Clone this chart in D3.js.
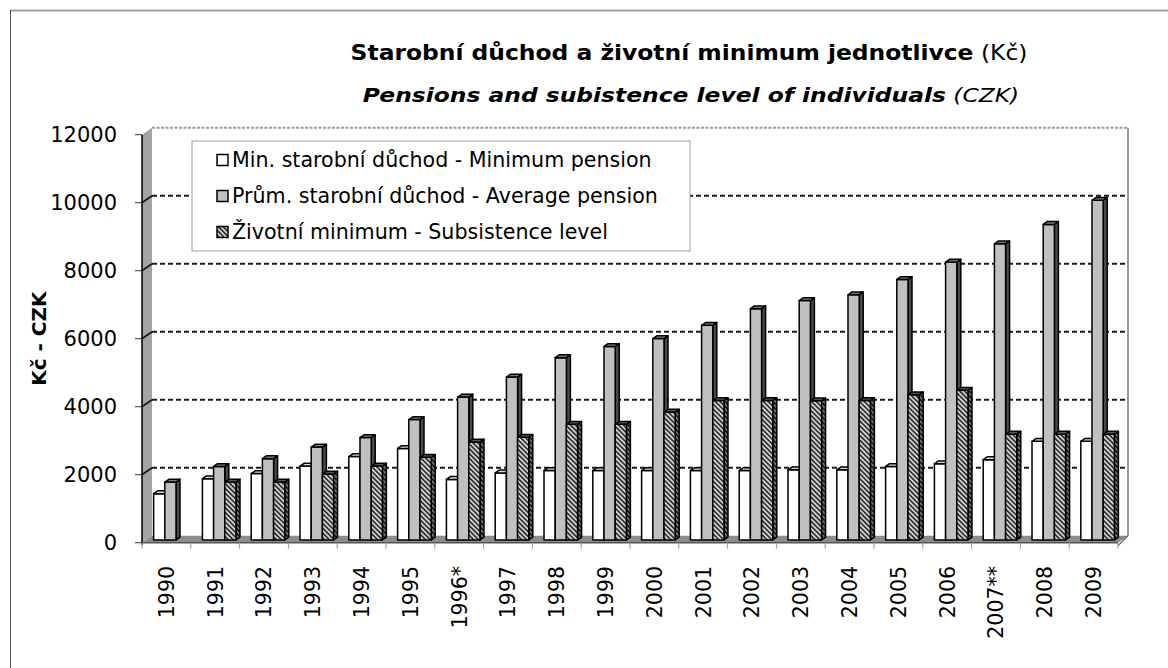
<!DOCTYPE html>
<html>
<head>
<meta charset="utf-8">
<script src="https://cdn.jsdelivr.net/npm/d3@7"></script>
<style>
  body { margin: 0; background: #fff; }
  svg { display: block; font-family: "DejaVu Sans", Verdana, sans-serif; }
</style>
</head>
<body>
<svg id="chart" width="1168" height="668"></svg>
<script>

//  values (Kč)
var years = ['1990', '1991', '1992', '1993', '1994', '1995', '1996*', '1997', '1998', '1999',
             '2000', '2001', '2002', '2003', '2004', '2005', '2006', '2007**', '2008', '2009'];

var minPension = [1360, 1800, 1950, 2170, 2450, 2690, 1780, 1970, 2040, 2040,
                  2040, 2040, 2040, 2060, 2060, 2160, 2240, 2360, 2900, 2900];

var avgPension = [1700, 2160, 2390, 2730, 3010, 3540, 4200, 4790, 5360, 5690,
                  5920, 6310, 6800, 7040, 7210, 7660, 8170, 8710, 9280, 9990];

var subsistence = [null, 1700, 1700, 1940, 2170, 2430, 2880, 3020, 3400, 3400,
                   3760, 4100, 4100, 4090, 4100, 4270, 4400, 3110, 3110, 3110];

var seriesNames = ['Min. starobní důchod - Minimum pension',
                   'Prům. starobní důchod - Average pension',
                   'Životní minimum - Subsistence level'];

var yTicks = [0, 2000, 4000, 6000, 8000, 10000, 12000];

var titleMain = 'Starobní důchod a životní minimum jednotlivce';
var titleUnit = ' (Kč)';
var subMain = 'Pensions and subistence level of individuals';
var subUnit = ' (CZK)';
var yTitle = 'Kč - CZK';


var svg = d3.select('#chart');

//  3d wall depth
var DX = 10, DY = -7;
//  bars sit between these fractions of the depth
var F0 = 0.4, F1 = 0.8;

var x = d3.scaleBand().domain(years).range([142, 1118]);
var xs = d3.scaleBand().domain([0, 1, 2]).range([0, x.bandwidth()]).paddingOuter(0.68);
var y = d3.scaleLinear().domain([0, 12000]).range([542.7, 134.7]);

var defs = svg.append('defs');
var pat = defs.append('pattern')
    .attr('id', 'hatch')
    .attr('patternUnits', 'userSpaceOnUse')
    .attr('width', 3.4).attr('height', 3.4)
    .attr('patternTransform', 'rotate(-45)');
pat.append('rect').attr('width', 3.4).attr('height', 3.4).attr('fill', '#dcdcdc');
pat.append('rect').attr('width', 1.8).attr('height', 3.4).attr('fill', '#333');

var patDark = defs.append('pattern')
    .attr('id', 'hatchDark')
    .attr('patternUnits', 'userSpaceOnUse')
    .attr('width', 3.4).attr('height', 3.4)
    .attr('patternTransform', 'rotate(-45)');
patDark.append('rect').attr('width', 3.4).attr('height', 3.4).attr('fill', '#7a7a7a');
patDark.append('rect').attr('width', 1.8).attr('height', 3.4).attr('fill', '#1a1a1a');

//  frame (only top and left show in the picture)
svg.append('line').attr('x1', 10.5).attr('y1', 10.5).attr('x2', 1168).attr('y2', 10.5)
    .attr('stroke', '#a0a0a0').attr('stroke-width', 2);
svg.append('line').attr('x1', 10.5).attr('y1', 10).attr('x2', 10.5).attr('y2', 668)
    .attr('stroke', '#555').attr('stroke-width', 1);

var x0 = x.range()[0], x1 = x.range()[1];
var y0 = y(0), yTop = y(12000);

function pts(a) { return a.map(function(p) { return p.join(','); }).join(' '); }

//  left side wall
svg.append('polygon')
    .attr('points', pts([[x0, y0], [x0, yTop], [x0 + DX, yTop + DY], [x0 + DX, y0 + DY]]))
    .attr('fill', '#a4a4a4');

//  back wall
svg.append('rect')
    .attr('x', x0 + DX).attr('y', yTop + DY)
    .attr('width', x1 - x0).attr('height', y0 - yTop)
    .attr('fill', '#fff');
svg.append('line')
    .attr('x1', x1 + DX).attr('y1', yTop + DY).attr('x2', x1 + DX).attr('y2', y0 + DY)
    .attr('stroke', '#9a9a9a').attr('stroke-width', 2);

//  floor
svg.append('polygon')
    .attr('points', pts([[x0, y0], [x1, y0], [x1 + DX, y0 + DY], [x0 + DX, y0 + DY]]))
    .attr('fill', '#8c8c8c');

//  gridlines on back wall + side wall
var grid = svg.append('g');
yTicks.filter(function(d) { return d > 0; }).forEach(function(v) {
    var top = v === 12000;
    grid.append('line')
        .attr('x1', x0 + DX).attr('x2', x1 + DX)
        .attr('y1', y(v) + DY).attr('y2', y(v) + DY)
        .attr('stroke', top ? '#9a9a9a' : '#1a1a1a')
        .attr('stroke-width', top ? 2 : 2)
        .attr('stroke-dasharray', top ? '3,1.5' : '5,3');
    if (!top) {
        grid.append('line')
            .attr('x1', x0).attr('y1', y(v))
            .attr('x2', x0 + DX).attr('y2', y(v) + DY)
            .attr('stroke', '#1a1a1a').attr('stroke-width', 1.8);
    }
});

//  y axis
var yAxis = svg.append('g');
yAxis.append('line').attr('x1', x0).attr('x2', x0).attr('y1', yTop).attr('y2', y0 + 2)
    .attr('stroke', '#000').attr('stroke-width', 1.5);
yAxis.selectAll('.tick')
    .data(yTicks)
    .enter().append('line')
    .attr('x1', x0 - 7).attr('x2', x0)
    .attr('y1', function(d) { return y(d); }).attr('y2', function(d) { return y(d); })
    .attr('stroke', '#333').attr('stroke-width', 1);
yAxis.selectAll('text')
    .data(yTicks)
    .enter().append('text')
    .attr('x', 117).attr('y', function(d) { return y(d); })
    .attr('dy', '0.36em')
    .attr('text-anchor', 'end')
    .attr('font-size', 21)
    .text(function(d) { return d; });

svg.append('text')
    .attr('transform', 'translate(46,' + (y(6000)) + ') rotate(-90)')
    .attr('text-anchor', 'middle')
    .attr('font-size', 20)
    .attr('font-weight', 'bold')
    .text(yTitle);

//  bars
var fills = [
    { front: '#ffffff', top: '#d8d8d8', side: '#9a9a9a' },
    { front: '#c0c0c0', top: '#7a7a7a', side: '#4a4a4a' },
    { front: 'url(#hatch)', top: '#555555', side: 'url(#hatchDark)' }
];
var series = [minPension, avgPension, subsistence];

var bdx0 = DX * F0, bdy0 = DY * F0;
var bdx = DX * (F1 - F0), bdy = DY * (F1 - F0);
var bw = xs.bandwidth();

var barsG = svg.append('g').attr('stroke', '#000').attr('stroke-width', 1.5).attr('stroke-linejoin', 'round');

years.forEach(function(yr, i) {
    series.forEach(function(s, k) {
        var v = s[i];
        if (v == null) return;
        var bx = x(yr) + xs(k) + bdx0;
        var base = y(0) + bdy0;
        var top = y(v) + bdy0;
        var c = fills[k];
        barsG.append('polygon')
            .attr('points', pts([[bx + bw, top], [bx + bw + bdx, top + bdy], [bx + bw + bdx, base + bdy], [bx + bw, base]]))
            .attr('fill', c.side);
        barsG.append('rect')
            .attr('x', bx).attr('y', top).attr('width', bw).attr('height', base - top)
            .attr('fill', c.front);
        barsG.append('polygon')
            .attr('points', pts([[bx, top], [bx + bdx, top + bdy], [bx + bw + bdx, top + bdy], [bx + bw, top]]))
            .attr('fill', c.top);
    });
});

//  x axis
var xAxis = svg.append('g');
xAxis.append('line').attr('x1', x0).attr('x2', x1).attr('y1', y0).attr('y2', y0)
    .attr('stroke', '#555').attr('stroke-width', 1.5);
xAxis.append('line').attr('x1', x1).attr('y1', y0 + 3).attr('x2', x1 + DX).attr('y2', y0 + DY)
    .attr('stroke', '#555').attr('stroke-width', 1.2);
xAxis.selectAll('.tick')
    .data(years.concat(['end']))
    .enter().append('line')
    .attr('x1', function(d, i) { return x0 + i * x.step(); })
    .attr('x2', function(d, i) { return x0 + i * x.step(); })
    .attr('y1', y0).attr('y2', y0 + 6)
    .attr('stroke', '#999').attr('stroke-width', 1);
xAxis.selectAll('text')
    .data(years)
    .enter().append('text')
    .attr('transform', function(d) {
        return 'translate(' + (x(d) + x.bandwidth() / 2) + ',566) rotate(-90)';
    })
    .attr('dy', '0.36em')
    .attr('text-anchor', 'end')
    .attr('font-size', 20.5)
    .text(function(d) { return d; });

//  legend
var lg = svg.append('g');
lg.append('rect')
    .attr('x', 192).attr('y', 141).attr('width', 498).attr('height', 110)
    .attr('fill', '#fff').attr('stroke', '#a0a0a0').attr('stroke-width', 1);
var legendY = [160, 196, 232];
var swatch = ['#ffffff', '#c0c0c0', 'url(#hatch)'];
seriesNames.forEach(function(name, k) {
    lg.append('rect')
        .attr('x', 217).attr('y', legendY[k] - 5.5).attr('width', 11).attr('height', 11)
        .attr('fill', swatch[k]).attr('stroke', '#000').attr('stroke-width', 1.5);
    lg.append('text')
        .attr('x', 232).attr('y', legendY[k]).attr('dy', '0.36em')
        .attr('font-size', 20.6)
        .text(name);
});

//  titles: stretch to the width they take in the picture
function fitTitle(sel, cx, cy, width) {
    sel.attr('text-anchor', 'middle');
    var w = sel.node().getComputedTextLength();
    sel.attr('transform', 'translate(' + cx + ',' + cy + ') scale(' + (width / w) + ',1)');
}

var t1 = svg.append('text').attr('font-size', 22);
t1.append('tspan').attr('font-weight', 'bold').text(titleMain);
t1.append('tspan').text(titleUnit);
fitTitle(t1, 689, 60, 677);

var t2 = svg.append('text').attr('font-size', 20).attr('font-style', 'italic');
t2.append('tspan').attr('font-weight', 'bold').text(subMain);
t2.append('tspan').text(subUnit);
fitTitle(t2, 691, 102, 657);

</script>
</body>
</html>
